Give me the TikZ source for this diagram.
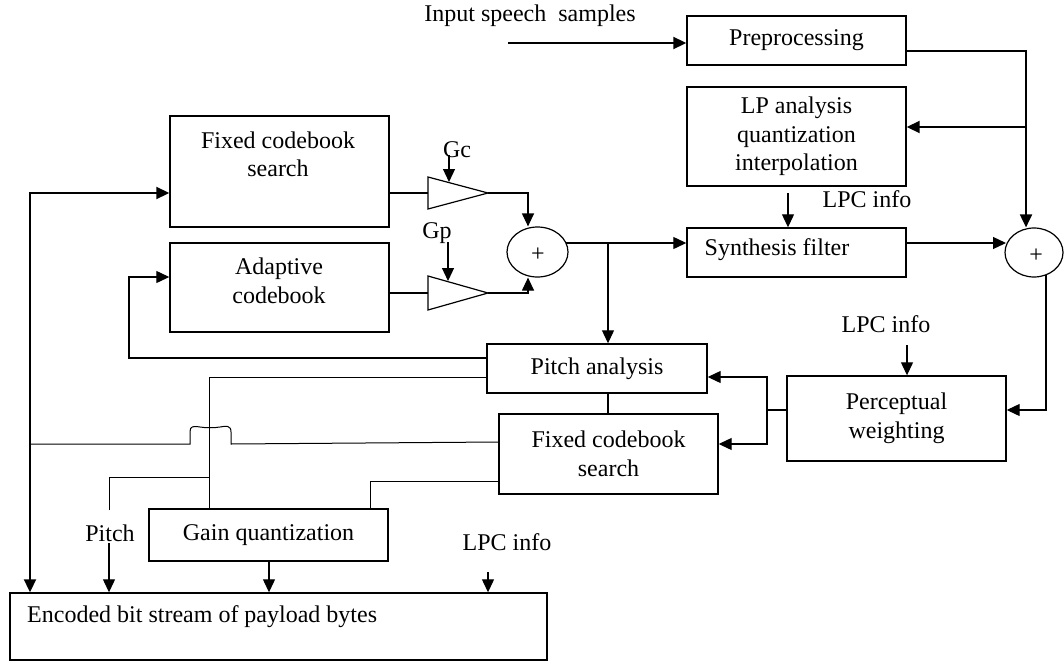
\documentclass[tikz,border=0pt]{standalone}
\usepackage{fontspec}
\setmainfont{Liberation Serif}
\usetikzlibrary{arrows.meta,shapes.geometric}

\begin{document}
\begin{tikzpicture}[x=1pt,y=-1pt,
  font=\fontsize{24}{28.5}\selectfont,
  blk/.style={draw, line width=1.4pt, inner sep=0pt},
  sumnode/.style={draw, ellipse, line width=1.2pt, inner sep=0pt, font=\fontsize{24}{24}\selectfont},
  lbl/.style={inner sep=0pt, align=center},
  wire/.style={line width=1.2pt},
  thinwire/.style={line width=1pt},
  bold/.style={line width=1.9pt},
  arr/.style={-{Triangle[length=13pt,width=12pt]}},
  amp/.style={line width=1.2pt}]

\useasboundingbox (0,0) rectangle (1064,661);

% ---- blocks ----
\node[blk, minimum width=219pt, minimum height=49pt] (pre) at (796.5,40.5) {Preprocessing};
\node[blk, minimum width=219pt, minimum height=99pt, align=center] (lp) at (796.5,136.5) {LP analysis\\quantization\\interpolation};
\node[blk, minimum width=219pt, minimum height=49pt] (syn) at (796.5,252.5) {};
\node[lbl] (synT) at (777,250) {Synthesis filter};
\node[sumnode, minimum width=58pt, minimum height=49pt] (sumR) at (1034,252.5) {};
\node[lbl, font=\fontsize{24}{24}\selectfont] (sumRT) at (1036,256) {+};
\node[blk, minimum width=219pt, minimum height=85pt, align=center] (perc) at (896.5,418.5) {Perceptual\\weighting};
\node[blk, minimum width=220pt, minimum height=49pt] (pitch) at (597,368.5) {Pitch analysis};
\node[blk, minimum width=219pt, minimum height=80pt, align=center] (fcsB) at (608.5,454) {Fixed codebook\\search};
\node[blk, minimum width=219pt, minimum height=111pt] (fcsA) at (279.5,171.5) {};
\node[lbl] (fcsAT) at (278,154.5) {Fixed codebook\\search};
\node[blk, minimum width=219pt, minimum height=89pt] (adapt) at (279.5,287.5) {};
\node[lbl] (adaptT) at (279,281) {Adaptive\\codebook};
\node[sumnode, minimum width=61pt, minimum height=50pt] (sumL) at (537.5,252) {};
\node[lbl, font=\fontsize{24}{24}\selectfont] (sumLT) at (538,255) {+};
\node[blk, minimum width=239pt, minimum height=52pt] (gain) at (268.5,535) {Gain quantization};
\node[blk, minimum width=537pt, minimum height=67pt] (enc) at (278.5,626.5) {};
\node[lbl, anchor=west] (encT) at (27,617) {Encoded bit stream of payload bytes};

% ---- labels ----
\node[lbl] (inLbl) at (530,16) {Input speech\hspace{0.5em}samples};
\node[lbl] (lpcA) at (867,199) {LPC info};
\node[lbl] (lpcB) at (886,324) {LPC info};
\node[lbl] (lpcC) at (507,542) {LPC info};
\node[lbl] (gcL) at (457,150) {Gc};
\node[lbl] (gpL) at (437,233) {Gp};
\node[lbl] (pitchL) at (110,533) {Pitch};

% ---- gain amplifiers ----
\coordinate (gcIn) at (428,193); \coordinate (gcOut) at (488,193);
\draw[amp] (428,177) -- (gcOut) -- (428,209) -- cycle;
\coordinate (gpIn) at (428,293); \coordinate (gpOut) at (488,293);
\draw[amp] (428,276) -- (gpOut) -- (428,310) -- cycle;

% ---- input and preprocessing ----
\coordinate (inStart) at (508,43);
\draw[bold,arr] (inStart) -- (inStart -| pre.west);
\coordinate (preR) at (1026,51);
\draw[bold,arr] (pre.east |- preR) -- (preR) -- (preR |- sumR.north);
\coordinate (lpTap) at (1026,127);
\draw[bold,arr] (lpTap) -- (lpTap -| lp.east);
\coordinate (lpcAS) at (788,193);
\draw[wire,arr] (lpcAS) -- (lpcAS |- syn.north);
\coordinate (synOut) at (1006,243);
\draw[wire,arr] (syn.east |- synOut) -- (synOut);

% ---- perceptual weighting loop ----
\coordinate (fbTop) at (1046,275);
\coordinate (fbCorner) at (1046,410);
\draw[wire,arr] (fbTop) -- (fbCorner) -- (fbCorner -| perc.east);
\coordinate (lpcBS) at (907,345);
\draw[wire,arr] (lpcBS) -- (lpcBS |- perc.north);
\coordinate (pwSplit) at (767,410);
\coordinate (pwUp) at (767,377);
\coordinate (pwDn) at (767,444);
\draw[wire] (perc.west |- pwSplit) -- (pwSplit);
\draw[wire,arr] (pwSplit) -- (pwUp) -- (pwUp -| pitch.east);
\draw[wire,arr] (pwSplit) -- (pwDn) -- (pwDn -| fcsB.east);

% ---- excitation sum ----
\coordinate (sumLOut) at (566,243);
\draw[wire,arr] (sumLOut) -- (sumLOut -| syn.west);
\coordinate (tap) at (608,243);
\draw[wire,arr] (tap) -- (tap |- pitch.north);
\draw[wire] (pitch.south -| tap) -- (fcsB.north -| tap);

\coordinate (busTop) at (30,193);
\draw[bold,{Triangle[length=13pt,width=12pt]}-{Triangle[length=13pt,width=12pt]}]
  (busTop -| fcsA.west) -- (busTop) -- (busTop |- enc.north);

\draw[wire] (gcIn -| fcsA.east) -- (gcIn);
\coordinate (gcDrop) at (528,193);
\draw[wire,arr] (gcOut) -- (gcDrop) -- (gcDrop |- sumL.north);
\coordinate (gcArr) at (449,155);
\draw[wire,arr] (gcArr) -- (449,182);

\draw[wire] (gpIn -| adapt.east) -- (gpIn);
\coordinate (gpRise) at (528,293);
\draw[wire,arr] (gpOut) -- (gpRise) -- (gpRise |- sumL.south);
\coordinate (gpArr) at (448,242);
\draw[wire,arr] (gpArr) -- (448,281);

% ---- pitch feedback and parameter lines ----
\coordinate (loopL) at (129,358);
\coordinate (adIn) at (129,277);
\draw[wire,arr] (pitch.west |- loopL) -- (loopL) -- (adIn) -- (adIn -| adapt.west);

\coordinate (gainTap) at (209,377);
\draw[thinwire] (pitch.west |- gainTap) -- (gainTap) -- (gainTap |- gain.north);
\coordinate (pitchTap) at (209,477);
\coordinate (pitchCorner) at (109,477);
\draw[thinwire] (pitchTap) -- (pitchCorner) -- (109,510);
\coordinate (pitchArr) at (109,543);
\draw[wire,arr] (pitchArr) -- (pitchArr |- enc.north);
\coordinate (gainOut) at (269,561);
\draw[wire,arr] (gainOut) -- (gainOut |- enc.north);
\coordinate (lpcCS) at (488,572);
\draw[wire,arr] (lpcCS) -- (lpcCS |- enc.north);

\coordinate (fbB) at (370,481);
\draw[thinwire] (fcsB.west |- fbB) -- (fbB) -- (fbB |- gain.north);

% line from the fixed codebook search to the bus, hopping over the gain line
\coordinate (hopR) at (231,444);
\coordinate (hopL) at (190,444);
\draw[thinwire] (fcsB.west |- 0,442) -- (hopR) -- (231,432)
  .. controls (231,425) and (226,426) .. (220,427)
  .. controls (214,428) and (206,428) .. (200,427)
  .. controls (193,426) and (190,426) .. (190,432)
  -- (hopL) -- (busTop |- hopL);

\end{tikzpicture}
\end{document}
